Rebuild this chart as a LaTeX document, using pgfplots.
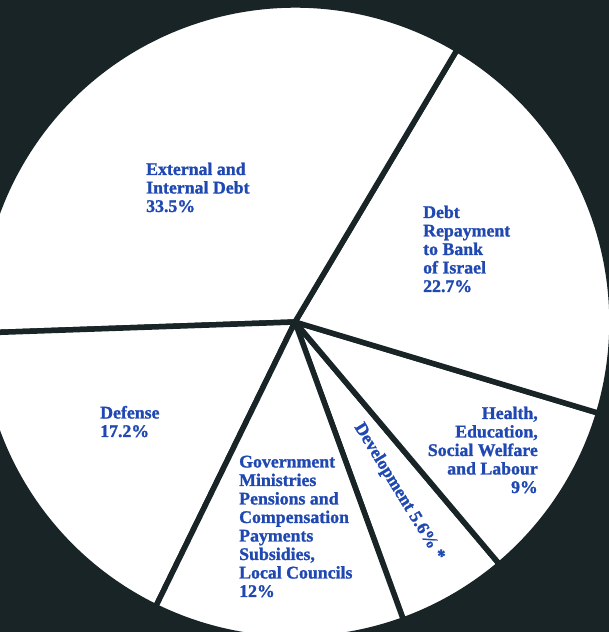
\documentclass[border=0pt]{standalone}
\usepackage{pgfplots}
\pgfplotsset{compat=1.18}
\usepackage{pgfplotstable}
\usepackage{fontspec}
\setmainfont{Liberation Serif}
\newfontfamily\labfont{Liberation Serif}[BoldFeatures={FakeBold=1.2}]
\definecolor{bg}{RGB}{24,36,38}
\definecolor{lab}{RGB}{32,72,178}
\tikzset{
  lbl/.style={text=lab, inner sep=0pt, font=\labfont\bfseries\fontsize{17.8}{18.5}\selectfont},
  sector/.style={fill=white, draw=bg, line width=5.5pt, line join=round},
}

% slice shares (percent of the circle as drawn), counter-clockwise from the start angle
\pgfplotstableread{
slice share
Development 5.6
Health 9.2
Repayment 21.1
External 34.1
Defense 17.2
Government 12.8
}\piedata
\def\startangle{-70}
\pgfplotstablegetelem{0}{share}\of\piedata \pgfmathsetmacro\aA{\startangle+3.6*\pgfplotsretval}
\pgfplotstablegetelem{1}{share}\of\piedata \pgfmathsetmacro\aB{\aA+3.6*\pgfplotsretval}
\pgfplotstablegetelem{2}{share}\of\piedata \pgfmathsetmacro\aC{\aB+3.6*\pgfplotsretval}
\pgfplotstablegetelem{3}{share}\of\piedata \pgfmathsetmacro\aD{\aC+3.6*\pgfplotsretval}
\pgfplotstablegetelem{4}{share}\of\piedata \pgfmathsetmacro\aE{\aD+3.6*\pgfplotsretval}
\pgfplotstablegetelem{5}{share}\of\piedata \pgfmathsetmacro\aF{\aE+3.6*\pgfplotsretval}

\begin{document}
\begin{tikzpicture}
\begin{axis}[
  scale only axis, width=609pt, height=632pt,
  xmin=0, xmax=609, ymin=0, ymax=632,
  axis lines=none, xtick=\empty, ytick=\empty,
  clip=true,
]
\fill[bg] (rel axis cs:0,0) rectangle (rel axis cs:1,1);
\filldraw[sector] (axis cs:295,310) -- ++(\startangle:317pt) arc[start angle=\startangle, end angle=\aA, radius=317pt] -- cycle;
\filldraw[sector] (axis cs:295,310) -- ++(\aA:317pt) arc[start angle=\aA, end angle=\aB, radius=317pt] -- cycle;
\filldraw[sector] (axis cs:295,310) -- ++(\aB:317pt) arc[start angle=\aB, end angle=\aC, radius=317pt] -- cycle;
\filldraw[sector] (axis cs:295,310) -- ++(\aC:317pt) arc[start angle=\aC, end angle=\aD, radius=317pt] -- cycle;
\filldraw[sector] (axis cs:295,310) -- ++(\aD:317pt) arc[start angle=\aD, end angle=\aE, radius=317pt] -- cycle;
\filldraw[sector] (axis cs:295,310) -- ++(\aE:317pt) arc[start angle=\aE, end angle=\aF, radius=317pt] -- cycle;

% anchor "base" of a multi-line node is the baseline of its last line
\node[lbl, align=left, anchor=base west] at (axis cs:146,420) {External and\\Internal Debt\\33.5\%};
\node[lbl, align=left, anchor=base west] at (axis cs:423,340) {Debt\\Repayment\\to Bank\\of Israel\\22.7\%};
\node[lbl, align=right, anchor=base east] at (axis cs:538,139) {Health,\\Education,\\Social Welfare\\and Labour\\9\%};
\node[lbl, align=left, anchor=base west] at (axis cs:100,195) {Defense\\17.2\%};
\node[lbl, align=left, anchor=base west] at (axis cs:239,35) {Government\\Ministries\\Pensions and\\Compensation\\Payments\\Subsidies,\\Local Councils\\12\%};
\node[lbl, rotate=-58.5, anchor=center] at (axis cs:399,140) {Development 5.6\% *};
\end{axis}
\end{tikzpicture}
\end{document}
